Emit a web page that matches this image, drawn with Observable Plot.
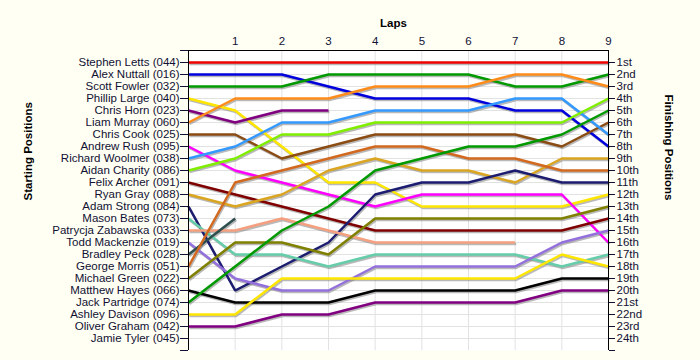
<!DOCTYPE html>
<html><head><meta charset="utf-8">
<script src="https://cdn.jsdelivr.net/npm/d3@7"></script>
<script src="https://cdn.jsdelivr.net/npm/@observablehq/plot@0.6"></script>
<style>
html,body{margin:0;padding:0;background:#fffff4;}
#chart svg{display:block;}
</style></head><body><div id="chart"></div>
<script>
const laps = [1,2,3,4,5,6,7,8,9];
const drivers = [
  "Stephen Letts (044)","Alex Nuttall (016)","Scott Fowler (032)","Phillip Large (040)",
  "Chris Horn (023)","Liam Murray (060)","Chris Cook (025)","Andrew Rush (095)",
  "Richard Woolmer (038)","Aidan Charity (086)","Felix Archer (091)","Ryan Gray (088)",
  "Adam Strong (084)","Mason Bates (073)","Patrycja Zabawska (033)","Todd Mackenzie (019)",
  "Bradley Peck (028)","George Morris (051)","Michael Green (022)","Matthew Hayes (066)",
  "Jack Partridge (074)","Ashley Davison (096)","Oliver Graham (042)","Jamie Tyler (045)"
];
// position of each driver at lap 0..9 (shorter = retired)
const positions = [
  [1,1,1,1,1,1,1,1,1,1],
  [2,2,2,3,4,4,4,5,5,8],
  [3,3,3,2,2,2,2,3,3,2],
  [4,5,8,11,11,13,13,13,13,12],
  [5,6,5,5],
  [6,4,4,4,3,3,3,2,2,3],
  [7,7,9,8,7,7,7,7,8,6],
  [8,10,11,12,13,12,12,12,12,16],
  [9,8,6,6,5,5,5,4,4,7],
  [10,9,7,7,6,6,6,6,6,4],
  [11,12,13,14,15,15,15,15,15,14],
  [12,13,12,10,9,10,10,11,9,9],
  [13,20,18,16,12,11,11,10,11,11],
  [14,17,17,18,17,17,17,17,18,17],
  [15,15,14,15,16,16,16,16],
  [16,19,20,20,18,18,18,18,16,15],
  [17,14],
  [18,11,10,9,8,8,9,9,10,10],
  [19,16,16,17,14,14,14,14,14,13],
  [20,21,21,21,20,20,20,20,19,19],
  [21,18,15,13,10,9,8,8,7,5],
  [22,22,19,19,19,19,19,19,17,18],
  [23,23,22,22,21,21,21,21,20,20],
  []
];
const lineColors = [
  "#ee0000","#0000dd","#009a00","#ffe600","#800080","#ff8c1a","#8b4c14","#ff00ff",
  "#3399ff","#80ee00","#800000","#daa520","#1c1c70","#66cdaa","#f4a080","#9370db",
  "#2f4f4f","#d2691e","#808000","#000000","#009a00","#ffe600","#800080","#888888"
];
const finishLabels = ["1st","2nd","3rd","4th","5th","6th","7th","8th","9th","10th","11th","12th",
  "13th","14th","15th","16th","17th","18th","19th","20th","21st","22nd","23rd","24th"];

const rows = [];
drivers.forEach((d, i) => positions[i].forEach((p, lap) => rows.push({driver: d, lap, pos: p, color: lineColors[i]})));
const rowTicks = d3.range(1, 25);

const chart = Plot.plot({
  width: 700, height: 360,
  marginLeft: 188, marginRight: 92, marginTop: 50, marginBottom: 10,
  style: {background: "transparent", fontFamily: "'Liberation Sans', Arial, sans-serif", fontSize: "11.5px", color: "#111133"},
  x: {domain: [0, 9]},
  y: {domain: [0, 25], reverse: true},
  color: {type: "identity"},
  marks: [
    Plot.frame({fill: "white", stroke: null}),
    Plot.gridY(rowTicks, {stroke: "#e2e2e2", strokeOpacity: 1}),
    Plot.gridX(d3.range(1, 9), {stroke: "#e2e2e2", strokeOpacity: 1}),
    Plot.line(rows, {x: "lap", y: "pos", z: "driver", stroke: "#808080", strokeOpacity: 0.55, strokeWidth: 2.5, dx: 1, dy: 1.5, curve: "linear", strokeLinejoin: "miter", strokeLinecap: "butt"}),
    Plot.line(rows, {x: "lap", y: "pos", z: "driver", stroke: "color", strokeWidth: 2.5, curve: "linear", strokeLinejoin: "miter", strokeLinecap: "butt"}),
    Plot.ruleX([0, 9], {y1: 0, y2: 25, stroke: "black"}),
    Plot.ruleY([0], {x1: 0, x2: 9, stroke: "black"}),
    Plot.axisY(d3.range(0, 26), {anchor: "left", tickSize: 8, tickPadding: 1, tickFormat: i => (i >= 1 && i <= 24) ? drivers[i - 1] : "", label: null, fontSize: 11.5}),
    Plot.axisY(d3.range(1, 26), {anchor: "right", tickSize: 6, tickPadding: 2, tickFormat: i => i <= 24 ? finishLabels[i - 1] : "", label: null, fontSize: 11.5}),
    Plot.axisX(laps, {anchor: "top", tickSize: 0, tickPadding: 6, label: null, fontSize: 11.5}),
    Plot.text(["Laps"], {frameAnchor: "top", dy: -32, dx: -5, fontWeight: "bold", fontSize: 11.5, fill: "black"}),
    Plot.text(["Starting Positions"], {frameAnchor: "left", dx: -160, rotate: -90, fontWeight: "bold", fontSize: 11.5, fill: "black"}),
    Plot.text(["Finishing Positions"], {frameAnchor: "right", dx: 60, rotate: 90, fontWeight: "bold", fontSize: 11.5, fill: "black"})
  ]
});
document.getElementById("chart").append(chart);
</script></body></html>
